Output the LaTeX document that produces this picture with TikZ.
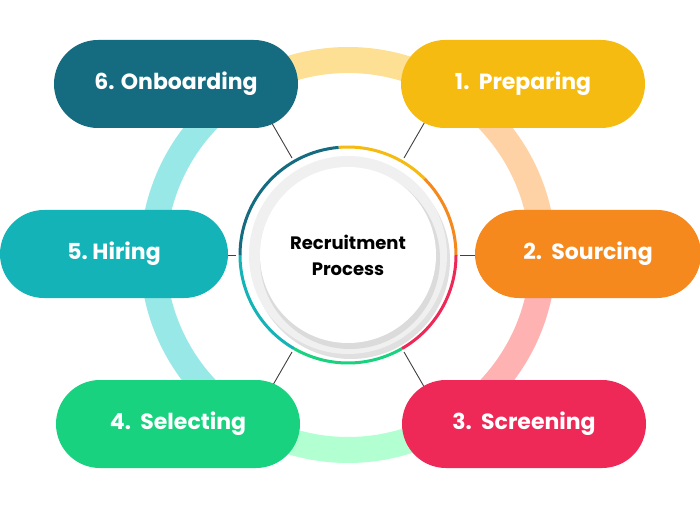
\documentclass[tikz,border=0pt]{standalone}
\usepackage{fontspec}
\setmainfont{Poppins}
\begin{document}
\begin{tikzpicture}[x=1pt,y=1pt,
 pill/.style={rounded corners=44pt,minimum width=244pt,minimum height=88pt,text=white,font=\bfseries\fontsize{22}{24}\selectfont,inner sep=0pt},
 conn/.style={draw=black!75,line width=0.9pt}]
\useasboundingbox (0,0) rectangle (700,525);
\fill[white] (0,0) rectangle (700,525);
\coordinate (c) at (348,270);
% big ring
\foreach \a/\b/\col in {60/120/yellow!45!orange!40,0/60/orange!35,-60/0/red!30,-120/-60/green!60!cyan!30,120/240/teal!45!cyan!40}{
 \draw[line width=26pt,\col] ([shift={(\a:195)}]c) arc (\a:\b:195);}
% connectors (under pills)
\foreach \ang in {60,120,0,180,-60,-120}{
 \coordinate (p\ang) at ([shift={(\ang:112)}]c);
 \coordinate (q\ang) at ([shift={(\ang:165)}]c);
 \draw[conn] (p\ang) -- (q\ang);}
% pills
\node[pill,fill={rgb,255:red,21;green,107;blue,127}] (s6) at (176,441) {6. Onboarding};
\node[pill,fill={rgb,255:red,246;green,187;blue,16}] (s1) at (523,441) {1.\ \ Preparing};
\node[pill,fill={rgb,255:red,19;green,179;blue,184},minimum width=228pt] (s5) at (114,271) {5.\ Hiring\hspace{22pt}};
\node[pill,fill={rgb,255:red,245;green,137;blue,30},minimum width=226pt] (s2) at (588,271) {2.\ \ Sourcing};
\node[pill,fill={rgb,255:red,25;green,210;blue,127}] (s4) at (178,101) {4.\ \ Selecting};
\node[pill,fill={rgb,255:red,238;green,40;blue,87}] (s3) at (524,101) {3.\ \ Screening};
% inner colored arcs
\foreach \a/\b/\col in {45/95/{rgb,255:red,246;green,187;blue,16},0/45/{rgb,255:red,245;green,137;blue,30},-60/0/{rgb,255:red,238;green,40;blue,87},-120/-60/{rgb,255:red,25;green,210;blue,127},180/240/{rgb,255:red,19;green,179;blue,184},95/180/{rgb,255:red,21;green,107;blue,127}}{
 \draw[line width=3pt,color=\col] ([shift={(\a:108)}]c) arc (\a:\b:108);}
% center disc
\fill[black!12] ([shift={(3,-5)}]c) circle (99);
\fill[black!6] (c) circle (99);
\fill[black!14] ([shift={(2,-4)}]c) circle (90);
\node[circle,fill=white,minimum size=176pt,inner sep=0pt,align=center,font=\bfseries\fontsize{18}{26}\selectfont] (center) at (c) {Recruitment\\Process};
\end{tikzpicture}
\end{document}
